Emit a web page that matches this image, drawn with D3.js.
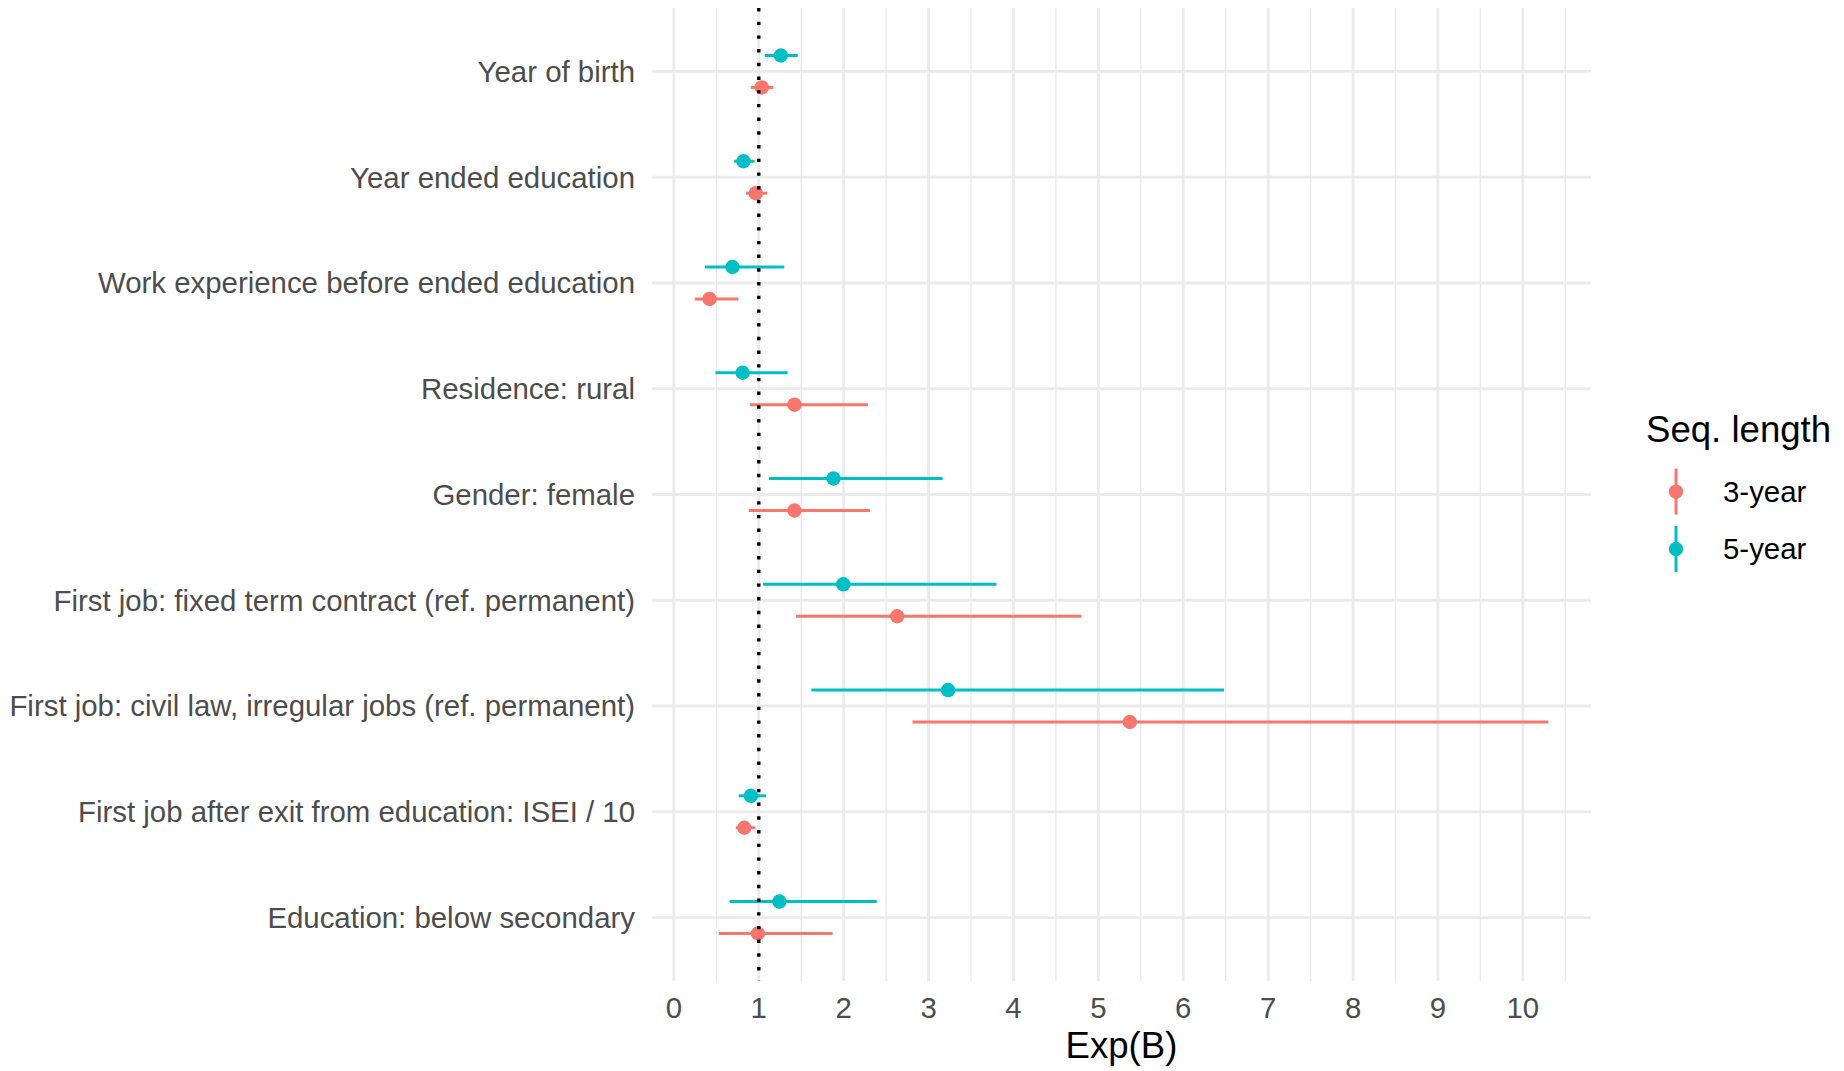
<!DOCTYPE html>
<html><head><meta charset="utf-8">
<script src="https://cdn.jsdelivr.net/npm/d3@7"></script>
<style>body{margin:0;background:#fff}</style>
</head><body>
<script>
const categories = [
  "Year of birth",
  "Year ended education",
  "Work experience before ended education",
  "Residence: rural",
  "Gender: female",
  "First job: fixed term contract (ref. permanent)",
  "First job: civil law, irregular jobs (ref. permanent)",
  "First job after exit from education: ISEI / 10",
  "Education: below secondary"
];
const seriesNames = ["3-year", "5-year"];
const est3 = [1.035, 0.965, 0.42, 1.42, 1.42, 2.63, 5.37, 0.83, 0.99];
const lo3  = [0.905, 0.85, 0.245, 0.895, 0.883, 1.44, 2.81, 0.73, 0.53];
const hi3  = [1.17, 1.10, 0.76, 2.285, 2.31, 4.80, 10.3, 0.96, 1.87];
const est5 = [1.26, 0.82, 0.69, 0.81, 1.88, 1.995, 3.23, 0.907, 1.243];
const lo5  = [1.07, 0.71, 0.366, 0.49, 1.12, 1.05, 1.62, 0.764, 0.657];
const hi5  = [1.46, 0.95, 1.30, 1.34, 3.165, 3.80, 6.48, 1.086, 2.39];
const xTicks = [0,1,2,3,4,5,6,7,8,9,10];
const refLine = 1;
const xTitle = "Exp(B)";
const legendTitle = "Seq. length";
const colors = ["#F8766D", "#00BFC4"];

const W = 1844, H = 1071;
const panel = {left: 652, right: 1591, top: 8, bottom: 981};
const textSize = 29.4, titleSize = 36.6;

const svg = d3.select("body").append("svg").attr("width", W).attr("height", H)
  .style("font-family", "'Liberation Sans', Arial, sans-serif");

const allVals = lo3.concat(hi3, lo5, hi5, est3, est5);
const mn = d3.min(allVals), mx = d3.max(allVals), ex = (mx - mn) * 0.05;
const x = d3.scaleLinear().domain([mn - ex, mx + ex]).range([panel.left, panel.right]);
const y = d3.scalePoint().domain(categories).range([panel.top, panel.bottom]).padding(0.6);
const dodge = y.step() * 0.151;

// minor gridlines
const minor = d3.range(0.5, mx + ex, 1).filter(v => v > mn - ex);
svg.append("g").selectAll("line").data(minor).join("line")
  .attr("x1", d => x(d)).attr("x2", d => x(d))
  .attr("y1", panel.top).attr("y2", panel.bottom)
  .attr("stroke", "#EBEBEB").attr("stroke-width", 1.4);
// major gridlines
svg.append("g").selectAll("line").data(xTicks).join("line")
  .attr("x1", d => x(d)).attr("x2", d => x(d))
  .attr("y1", panel.top).attr("y2", panel.bottom)
  .attr("stroke", "#EBEBEB").attr("stroke-width", 2.8);
svg.append("g").selectAll("line").data(categories).join("line")
  .attr("x1", panel.left).attr("x2", panel.right)
  .attr("y1", d => y(d)).attr("y2", d => y(d))
  .attr("stroke", "#EBEBEB").attr("stroke-width", 2.8);

// y labels
svg.append("g").selectAll("text").data(categories).join("text")
  .attr("x", 635).attr("y", d => y(d)).attr("dy", "0.35em")
  .attr("text-anchor", "end").attr("font-size", textSize).attr("fill", "#4D4D4D")
  .text(d => d);

// x tick labels
svg.append("g").selectAll("text").data(xTicks).join("text")
  .attr("x", d => x(d)).attr("y", 1018)
  .attr("text-anchor", "middle").attr("font-size", textSize).attr("fill", "#4D4D4D")
  .text(d => d);
svg.append("text").attr("x", (panel.left + panel.right) / 2).attr("y", 1058)
  .attr("text-anchor", "middle").attr("font-size", titleSize).attr("fill", "#000").text(xTitle);

// series
const series = [
  {name: seriesNames[0], est: est3, lo: lo3, hi: hi3, off: dodge, color: colors[0]},
  {name: seriesNames[1], est: est5, lo: lo5, hi: hi5, off: -dodge, color: colors[1]}
];
series.forEach(s => {
  const g = svg.append("g");
  const data = categories.map((c, i) => ({c, e: s.est[i], l: s.lo[i], h: s.hi[i]}));
  g.selectAll("line").data(data).join("line")
    .attr("x1", d => x(d.l)).attr("x2", d => x(d.h))
    .attr("y1", d => y(d.c) + s.off).attr("y2", d => y(d.c) + s.off)
    .attr("stroke", s.color).attr("stroke-width", 3);
  g.selectAll("circle").data(data).join("circle")
    .attr("cx", d => x(d.e)).attr("cy", d => y(d.c) + s.off).attr("r", 7.2)
    .attr("fill", s.color);
});

// reference line
svg.append("line").attr("x1", x(refLine)).attr("x2", x(refLine))
  .attr("y1", panel.top).attr("y2", panel.bottom)
  .attr("stroke", "#000").attr("stroke-width", 3.4).attr("stroke-dasharray", "3.4,10.3");

// legend
const lg = svg.append("g");
lg.append("text").attr("x", 1646).attr("y", 442).attr("font-size", titleSize).attr("fill", "#000").text(legendTitle);
series.forEach((s, i) => {
  const cy = 491.6 + i * 57.4;
  lg.append("line").attr("x1", 1676).attr("x2", 1676).attr("y1", cy - 23).attr("y2", cy + 23)
    .attr("stroke", s.color).attr("stroke-width", 3);
  lg.append("circle").attr("cx", 1676).attr("cy", cy).attr("r", 7.2).attr("fill", s.color);
  lg.append("text").attr("x", 1723).attr("y", cy).attr("dy", "0.35em").attr("font-size", textSize)
    .attr("fill", "#000").text(s.name);
});
</script>
</body></html>
